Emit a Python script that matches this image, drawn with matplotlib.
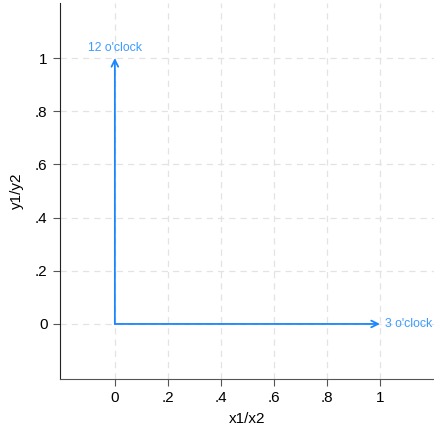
import matplotlib.pyplot as plt

plt.rcParams['font.family'] = ['Liberation Sans', 'DejaVu Sans']

# arrow data: start (y1, x1) -> end (y2, x2)
x1 = [0, 0]
y1 = [0, 0]
x2 = [0, 1]
y2 = [1, 0]
labels = ["12 o'clock", "3 o'clock"]
label_pos = ['above', 'right']

ticks = [0, 0.2, 0.4, 0.6, 0.8, 1.0]
tick_labels = ['0', '.2', '.4', '.6', '.8', '1']

blue = '#1a85ff'

fig = plt.figure(figsize=(4.34, 4.25), dpi=100)
ax = fig.add_axes([60 / 434, 46 / 425, 374 / 434, 376 / 425])

for a, b, c, d, lab, pos in zip(x1, y1, x2, y2, labels, label_pos):
    ax.annotate('', xy=(c, d), xytext=(a, b),
                arrowprops=dict(arrowstyle='->', color=blue, lw=1.3,
                                shrinkA=0, shrinkB=0, mutation_scale=12))
    if pos == 'above':
        ax.annotate(lab, (c, d), xytext=(0, 3), textcoords='offset points',
                    ha='center', va='bottom', fontsize=8.8, color='#3d9bff',
                    annotation_clip=False)
    else:
        ax.annotate(lab, (c, d), xytext=(4, 0), textcoords='offset points',
                    ha='left', va='center', fontsize=8.8, color='#3d9bff',
                    annotation_clip=False)

ax.set_xlim(-0.207, 1.204)
ax.set_ylim(-0.207, 1.207)
ax.set_xticks(ticks)
ax.set_xticklabels(tick_labels)
ax.set_yticks(ticks)
ax.set_yticklabels(tick_labels)
ax.tick_params(direction='out', length=5, width=0.8, color='#555555',
               labelsize=11, pad=4)
ax.grid(True, ls=(0, (5, 4)), color='#e3e3e3', lw=0.9)
ax.set_axisbelow(True)
for s in ['top', 'right']:
    ax.spines[s].set_visible(False)
ax.spines['left'].set_color('#222222')
ax.spines['bottom'].set_color('#555555')
ax.set_xlabel('x1/x2', fontsize=11, labelpad=5)
ax.set_ylabel('y1/y2', fontsize=11, labelpad=8)

fig.savefig('out.png', dpi=100)
